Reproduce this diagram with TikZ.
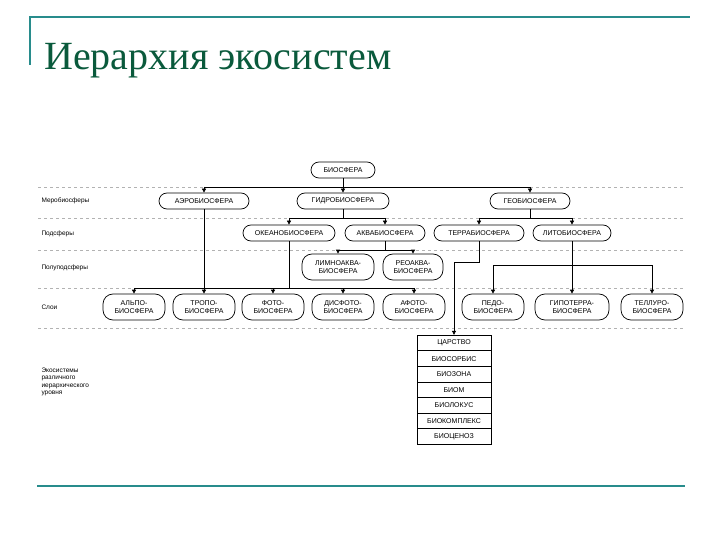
\documentclass[tikz,border=0pt]{standalone}
\usepackage{fontspec}
\setmainfont{Liberation Sans}
\newfontfamily\titlefont{Liberation Serif}
\usetikzlibrary{arrows.meta}
\definecolor{teal1}{RGB}{40,140,140}
\definecolor{tgreen}{RGB}{10,90,60}
\begin{document}
\begin{tikzpicture}[x=1pt,y=-1pt,
  bx/.style={draw,rounded corners=8pt,line width=0.7pt,font=\fontsize{7}{7.5}\selectfont,inner sep=1pt,minimum height=16,align=center},
  bx2/.style={bx,rounded corners=10pt,minimum height=26,minimum width=62},
  cell/.style={draw,line width=0.7pt,font=\fontsize{7}{7.5}\selectfont,minimum width=74,minimum height=15.6,inner sep=0pt},
  ar/.style={-{Triangle[length=4pt,width=4pt]},line width=0.7pt},
  ln/.style={line width=0.7pt},
  sep/.style={gray!60,dashed,line width=0.5pt},
  lab/.style={anchor=west,font=\fontsize{6.5}{7.5}\selectfont,align=left}]
\useasboundingbox (0,0) rectangle (720,540);
% frame
\draw[teal1,line width=1.5pt] (30,65) -- (30,17) -- (690,17);
\draw[teal1,line width=2pt] (37,486) -- (685,486);
\node[anchor=base west,text=tgreen,font=\titlefont\fontsize{40}{44}\selectfont,inner sep=0] (title) at (44,70) {Иерархия экосистем};
% separators
\foreach \y in {187,218,250,288,328} \draw[sep] (38,\y) -- (685,\y);
% row labels
\node[lab] (l1) at (38,201) {Меробиосферы};
\node[lab] (l2) at (38,234) {Подсферы};
\node[lab] (l3) at (38,268) {Полуподсферы};
\node[lab] (l4) at (38,307) {Слои};
\node[lab] (l5) at (38,382) {Экосистемы\\различного\\иерархического\\уровня};
% nodes
\node[bx,minimum width=64] (bio) at (343,170) {БИОСФЕРА};
\node[bx,minimum width=90] (aero) at (204,201) {АЭРОБИОСФЕРА};
\node[bx,minimum width=92] (hydro) at (343,201) {ГИДРОБИОСФЕРА};
\node[bx,minimum width=80] (geo) at (530,201) {ГЕОБИОСФЕРА};
\node[bx,minimum width=92] (ocean) at (289,233) {ОКЕАНОБИОСФЕРА};
\node[bx,minimum width=80] (aqua) at (385,233) {АКВАБИОСФЕРА};
\node[bx,minimum width=90] (terra) at (479,233) {ТЕРРАБИОСФЕРА};
\node[bx,minimum width=78] (lito) at (572,233) {ЛИТОБИОСФЕРА};
\node[bx2,minimum width=72] (limno) at (338,267) {ЛИМНОАКВА-\\БИОСФЕРА};
\node[bx2,minimum width=60] (reo) at (413,267) {РЕОАКВА-\\БИОСФЕРА};
\node[bx2] (alpo) at (134,307) {АЛЬПО-\\БИОСФЕРА};
\node[bx2] (tropo) at (204,307) {ТРОПО-\\БИОСФЕРА};
\node[bx2] (foto) at (273,307) {ФОТО-\\БИОСФЕРА};
\node[bx2] (disf) at (343,307) {ДИСФОТО-\\БИОСФЕРА};
\node[bx2] (afoto) at (414,307) {АФОТО-\\БИОСФЕРА};
\node[bx2] (pedo) at (493,307) {ПЕДО-\\БИОСФЕРА};
\node[bx2,minimum width=74] (hypo) at (572,307) {ГИПОТЕРРА-\\БИОСФЕРА};
\node[bx2] (tell) at (652,307) {ТЕЛЛУРО-\\БИОСФЕРА};
% stack
\node[cell] (c1) at (454,343) {ЦАРСТВО};
\node[cell] (c2) at (454,358.6) {БИОСОРБИС};
\node[cell] (c3) at (454,374.2) {БИОЗОНА};
\node[cell] (c4) at (454,389.8) {БИОМ};
\node[cell] (c5) at (454,405.4) {БИОЛОКУС};
\node[cell] (c6) at (454,421) {БИОКОМПЛЕКС};
\node[cell] (c7) at (454,436.6) {БИОЦЕНОЗ};
% connectors
\draw[ln] (bio.south) -- (bio.south |- 0,187);
\draw[ln] (aero.north |- 0,187) -- (geo.north |- 0,187);
\draw[ar] (aero.north |- 0,187) -- (aero.north);
\draw[ar] (hydro.north |- 0,187) -- (hydro.north);
\draw[ar] (geo.north |- 0,187) -- (geo.north);
\draw[ar] (aero.south) -- (tropo.north);
\draw[ln] (hydro.south) -- (hydro.south |- 0,218);
\draw[ln] (ocean.north |- 0,218) -- (aqua.north |- 0,218);
\draw[ar] (ocean.north |- 0,218) -- (ocean.north);
\draw[ar] (aqua.north |- 0,218) -- (aqua.north);
\draw[ln] (geo.south) -- (geo.south |- 0,218);
\draw[ln] (terra.north |- 0,218) -- (lito.north |- 0,218);
\draw[ar] (terra.north |- 0,218) -- (terra.north);
\draw[ar] (lito.north |- 0,218) -- (lito.north);
\draw[ln] (aqua.south) -- (aqua.south |- 0,250);
\draw[ln] (limno.north |- 0,250) -- (reo.north |- 0,250);
\draw[ar] (limno.north |- 0,250) -- (limno.north);
\draw[ar] (reo.north |- 0,250) -- (reo.north);
\draw[ln] (ocean.south) -- (ocean.south |- 0,288);
\draw[ln] (alpo.north |- 0,288) -- (afoto.north |- 0,288);
\draw[ar] (alpo.north |- 0,288) -- (alpo.north);
\draw[ar] (foto.north |- 0,288) -- (foto.north);
\draw[ar] (disf.north |- 0,288) -- (disf.north);
\draw[ar] (afoto.north |- 0,288) -- (afoto.north);
\draw[ar] (lito.south) -- (hypo.north);
\draw[ln] (pedo.north |- 0,265) -- (tell.north |- 0,265);
\draw[ar] (pedo.north |- 0,265) -- (pedo.north);
\draw[ar] (tell.north |- 0,265) -- (tell.north);
\draw[ar] (terra.south) -- (terra.south |- 0,262) -- (454,262) -- (c1.north);
\end{tikzpicture}
\end{document}
